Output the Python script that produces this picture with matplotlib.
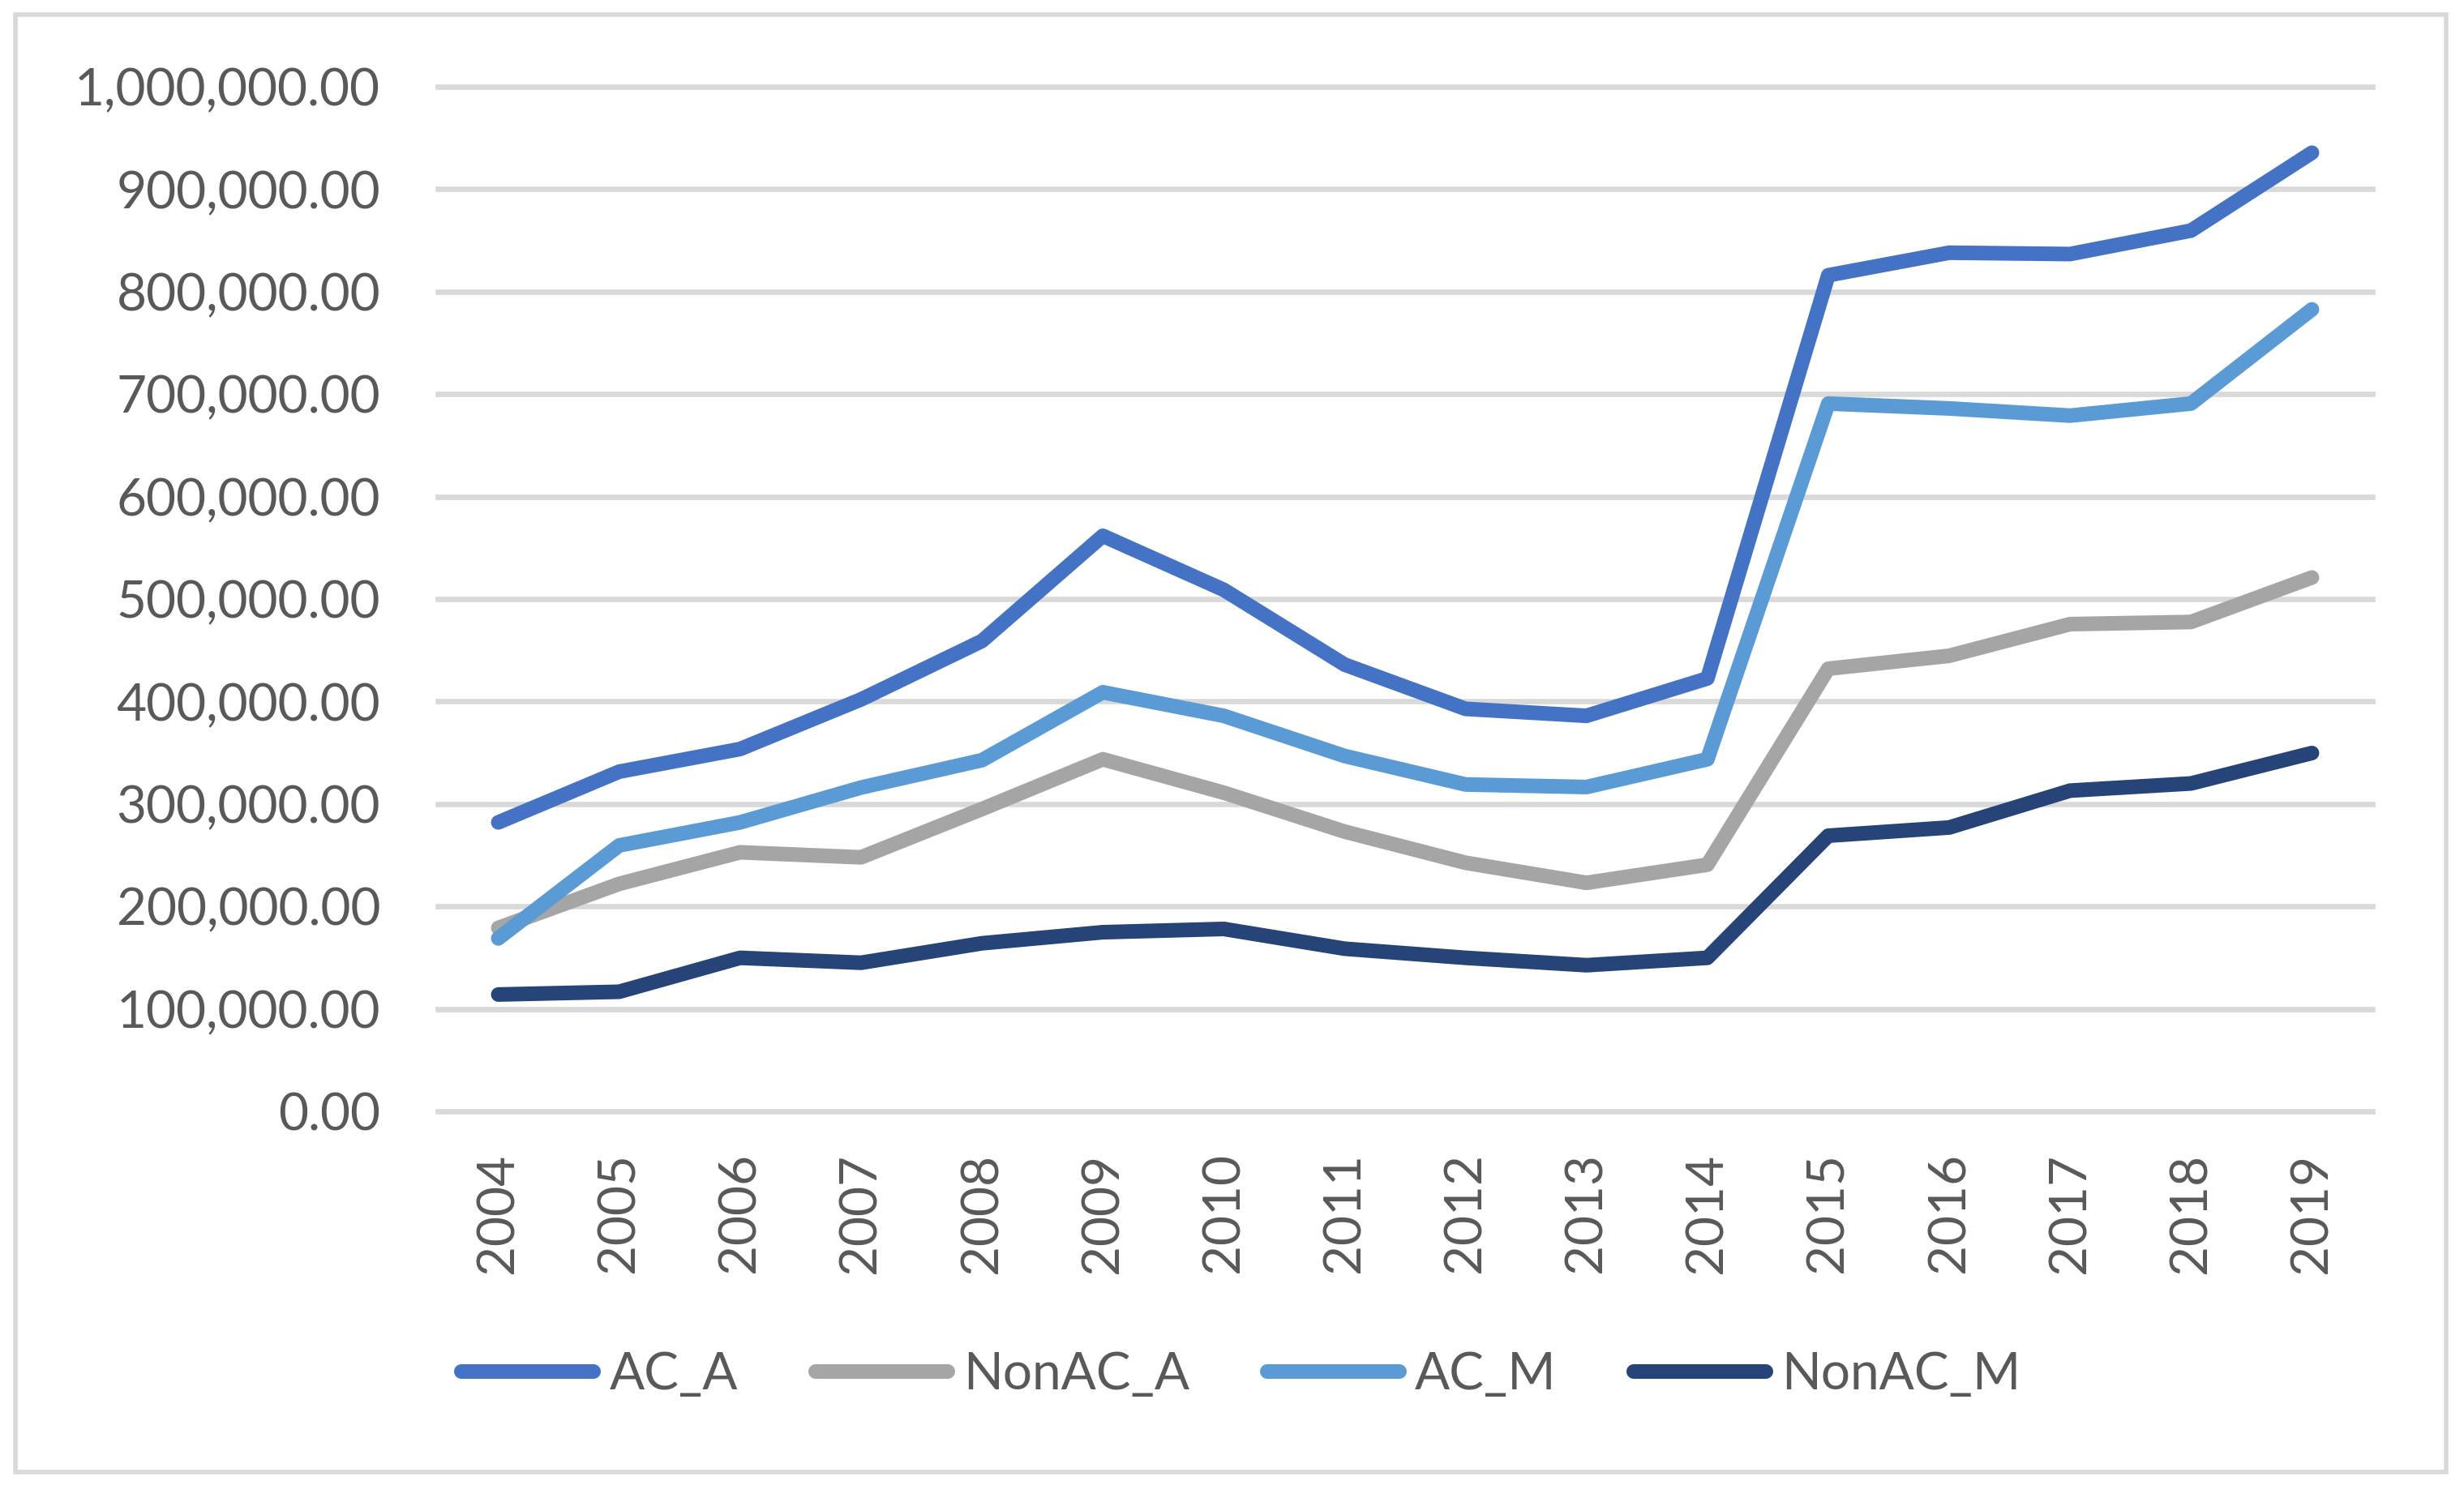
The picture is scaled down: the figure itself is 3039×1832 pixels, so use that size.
import matplotlib
matplotlib.use("Agg")
import matplotlib.pyplot as plt
from matplotlib.patches import Rectangle
from matplotlib.ticker import FuncFormatter, MultipleLocator

years = ["2004", "2005", "2006", "2007", "2008", "2009", "2010", "2011",
         "2012", "2013", "2014", "2015", "2016", "2017", "2018", "2019"]
AC_A = [282000, 331500, 353600, 402000, 459000, 561700, 509000, 436000,
        392800, 386000, 422500, 816000, 838000, 836700, 859600, 935600]
NonAC_A = [179000, 222000, 252800, 247900, 295000, 343600, 311000, 273000,
           242600, 223000, 240700, 432000, 444600, 475500, 477600, 521000]
AC_M = [168800, 259500, 282000, 316000, 342700, 409000, 386000, 346800,
        319000, 316500, 343600, 690800, 686000, 679000, 690800, 782700]
NonAC_M = [114000, 116700, 149800, 145000, 164000, 174800, 178000, 158700,
           149800, 142600, 149800, 269000, 277000, 313000, 320000, 349700]

series_names = ["AC_A", "NonAC_A", "AC_M", "NonAC_M"]
series_values = [AC_A, NonAC_A, AC_M, NonAC_M]
colors = ["#4472C4", "#A5A5A5", "#5B9BD5", "#264478"]

plt.rcParams['font.family'] = ['Lato', 'DejaVu Sans']

W, H = 3039, 1832
fig = plt.figure(figsize=(W / 100, H / 100), dpi=100)
fig.patch.set_facecolor("white")

ax = fig.add_axes([540 / W, 1 - 1371 / H, (2926 - 540) / W, (1371 - 107) / H])
x = list(range(len(years)))
for name, vals, c in zip(series_names, series_values, colors):
    ax.plot(x, vals, color=c, lw=13, label=name, solid_capstyle="round",
            solid_joinstyle="round", clip_on=False, zorder=3)

ax.set_xlim(-0.5, len(years) - 0.5)
ax.set_ylim(0, 1000000)
ax.yaxis.set_major_locator(MultipleLocator(100000))
ax.yaxis.set_major_formatter(FuncFormatter(lambda v, p: f"{v:,.2f}"))
ax.set_xticks(x)
ax.set_xticklabels(years, rotation=90)
ax.grid(axis="y", color="#D9D9D9", lw=4.8, zorder=0)
for gl in ax.get_ygridlines():
    gl.set_clip_on(False)
ax.set_axisbelow(True)
for s in ax.spines.values():
    s.set_visible(False)
ax.tick_params(axis="y", length=0, pad=51, labelsize=46, labelcolor="#595959")
ax.tick_params(axis="x", length=0, pad=37, labelsize=46, labelcolor="#595959")

leg = fig.legend(loc="center", bbox_to_anchor=(1531 / W, 1 - 1696 / H), ncol=4,
                 frameon=False, fontsize=46, handlelength=2.55,
                 handletextpad=0.3, columnspacing=1.5, labelcolor="#595959")
for lh in leg.get_lines():
    lh.set_linewidth(13)
    lh.set_solid_capstyle("round")

fig.patches.append(Rectangle((18.5 / W, 1 - 1816 / H), (3017 - 18.5) / W, (1816 - 18) / H,
                             transform=fig.transFigure, fill=False,
                             edgecolor="#D9D9D9", lw=4, zorder=0))

fig.savefig("out.png", dpi=100, facecolor="white")
